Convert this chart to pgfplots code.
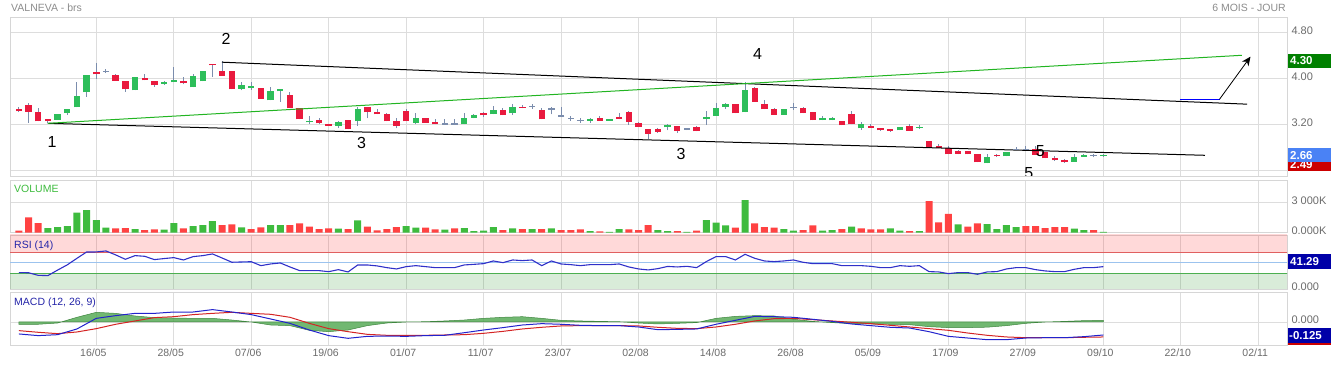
\documentclass[border=0pt]{standalone}
\usepackage{pgfplots}
\pgfplotsset{compat=1.18}
\usepackage{pgfplotstable}
\usepackage{fontspec}
\setmainfont{Liberation Sans}
\usetikzlibrary{arrows.meta}

\definecolor{cgreen}{HTML}{2DBE5A}
\definecolor{cred}{HTML}{E91A3E}
\definecolor{wick}{HTML}{7B8DAD}
\definecolor{gridc}{HTML}{DDDDDD}
\definecolor{framec}{HTML}{D6D6D6}
\definecolor{labc}{HTML}{6B6B6B}
\definecolor{titlec}{HTML}{8C8C8C}
\definecolor{vgreen}{HTML}{3EBB3E}
\definecolor{vred}{HTML}{FF4242}
\definecolor{rsiblue}{HTML}{3030C8}
\definecolor{rsired}{HTML}{E06060}
\definecolor{rsimid}{HTML}{9CC3EE}
\definecolor{rsigreen}{HTML}{4CAF50}
\definecolor{navy}{HTML}{0000A8}
\definecolor{macdblue}{HTML}{2222CC}
\definecolor{macdred}{HTML}{D42424}
\definecolor{histg}{HTML}{4EA64E}
\definecolor{trendg}{HTML}{22B422}
\definecolor{boxgreen}{HTML}{008000}
\definecolor{boxblue}{HTML}{4A82F5}
\definecolor{boxred}{HTML}{CC0000}
\definecolor{lblblue}{HTML}{2424A8}

\pgfplotstableread{
i o h l c
-4 3.281 3.374 3.281 3.374
-3 3.403 3.467 3.362 3.467
-2 3.496 3.942 3.496 3.687
-1 3.757 4.058 3.675 4.058
4 3.791 4.023 3.791 4.023
7 3.907 3.954 3.884 3.936
8 3.930 4.197 3.930 3.977
10 3.843 4.075 3.843 4.041
11 3.948 4.128 3.948 4.128
15 3.820 3.930 3.790 3.878
16 3.838 3.930 3.797 3.867
18 3.617 3.855 3.617 3.780
19 3.774 3.820 3.588 3.820
22 3.235 3.345 3.206 3.264
25 3.177 3.258 3.142 3.235
27 3.252 3.507 3.177 3.467
33 3.229 3.390 3.200 3.310
38 3.200 3.390 3.200 3.304
39 3.310 3.386 3.304 3.362
41 3.374 3.525 3.374 3.443
43 3.391 3.559 3.362 3.496
51 3.258 3.304 3.229 3.293
53 3.264 3.293 3.258 3.293
59 3.148 3.212 3.096 3.183
63 3.287 3.432 3.188 3.327
64 3.345 3.565 3.345 3.490
65 3.501 3.577 3.467 3.548
67 3.409 3.930 3.409 3.791
71 3.368 3.461 3.368 3.461
75 3.270 3.345 3.270 3.304
76 3.270 3.333 3.270 3.316
79 3.130 3.235 3.107 3.200
83 3.096 3.154 3.096 3.154
85 3.136 3.188 3.119 3.159
92 2.522 2.678 2.522 2.626
94 2.643 2.713 2.643 2.713
101 2.551 2.678 2.551 2.626
102 2.638 2.690 2.632 2.673
104 2.645 2.680 2.640 2.660
}\greenc

\pgfplotstableread{
i o h l c
-8 3.467 3.496 3.410 3.426
-7 3.536 3.565 3.229 3.420
-6 3.409 3.490 3.250 3.252
-5 3.287 3.300 3.217 3.264
0 4.115 4.271 3.993 4.070
2 4.058 4.075 3.954 3.954
3 3.954 3.954 3.768 3.809
5 4.006 4.075 3.965 3.965
6 3.948 3.948 3.855 3.878
9 3.959 4.017 3.896 3.913
12 4.249 4.249 4.029 4.226
13 4.133 4.300 4.046 4.046
14 4.128 4.128 3.809 3.809
17 3.826 3.826 3.646 3.646
20 3.710 3.768 3.478 3.478
21 3.478 3.490 3.287 3.287
23 3.275 3.310 3.200 3.217
24 3.206 3.206 3.171 3.177
26 3.270 3.270 3.113 3.113
28 3.496 3.496 3.304 3.409
29 3.409 3.461 3.374 3.374
30 3.374 3.390 3.252 3.252
31 3.252 3.316 3.130 3.177
32 3.426 3.461 3.252 3.252
34 3.310 3.310 3.229 3.229
35 3.235 3.293 3.200 3.200
40 3.391 3.410 3.320 3.357
42 3.449 3.490 3.357 3.357
44 3.507 3.536 3.478 3.484
46 3.449 3.490 3.287 3.287
52 3.310 3.345 3.258 3.264
54 3.327 3.403 3.287 3.300
55 3.409 3.432 3.188 3.246
56 3.223 3.240 3.159 3.159
57 3.113 3.113 2.944 3.038
58 3.119 3.136 3.055 3.072
60 3.165 3.177 3.055 3.090
62 3.154 3.177 3.078 3.078
66 3.548 3.548 3.391 3.391
68 3.826 3.843 3.594 3.594
69 3.548 3.623 3.461 3.461
70 3.461 3.478 3.368 3.368
73 3.478 3.496 3.391 3.391
74 3.409 3.409 3.270 3.270
77 3.264 3.264 3.183 3.183
78 3.374 3.432 3.200 3.200
80 3.177 3.206 3.136 3.136
81 3.136 3.136 3.084 3.096
82 3.113 3.113 3.072 3.090
84 3.171 3.200 3.090 3.090
86 2.910 2.910 2.783 2.812
87 2.829 2.858 2.783 2.783
88 2.783 2.823 2.678 2.678
89 2.736 2.754 2.678 2.690
90 2.736 2.736 2.678 2.678
91 2.690 2.690 2.539 2.539
93 2.673 2.684 2.632 2.643
97 2.777 2.820 2.667 2.667
98 2.713 2.713 2.609 2.609
99 2.620 2.643 2.562 2.574
100 2.574 2.591 2.528 2.539
}\redc

\pgfplotstableread{
i o h l
1 4.120 4.170 4.090
36 3.206 3.293 3.200
37 3.206 3.293 3.200
45 3.507 3.548 3.467
47 3.467 3.507 3.374
48 3.345 3.507 3.333
49 3.304 3.345 3.258
50 3.264 3.304 3.229
61 3.119 3.140 3.100
72 3.490 3.565 3.449
95 2.759 2.800 2.754
96 2.759 2.829 2.754
103 2.661 2.690 2.626
}\dojic

\pgfplotstableread{
i v
-5 470
-4 570
-3 670
-2 2010
-1 2280
0 1270
1 500
4 370
7 300
8 970
10 670
11 770
12 1170
15 535
18 770
19 770
25 400
27 1240
32 670
33 500
36 300
38 470
39 170
40 200
41 570
43 435
45 370
47 435
51 170
53 70
54 370
58 270
59 170
61 70
63 1270
64 1005
65 735
67 3280
71 370
72 200
75 200
76 270
78 600
82 435
83 200
85 170
89 840
92 870
93 370
94 770
95 570
101 400
102 270
104 70
}\volg

\pgfplotstableread{
i v
-8 200
-7 1540
-6 970
2 435
3 470
5 270
6 335
9 435
13 770
14 840
16 370
17 535
20 770
21 940
22 600
23 370
24 435
26 370
28 600
29 235
30 370
31 570
34 500
35 335
37 435
42 270
44 370
46 370
48 270
49 270
50 335
52 135
55 335
56 270
57 770
60 170
62 200
66 500
68 940
69 570
70 500
73 270
74 735
77 370
79 435
80 335
81 335
84 170
86 3180
87 1040
88 1880
90 600
91 940
96 670
97 670
98 470
99 570
100 570
103 270
}\volr

\pgfplotstableread{
i r
-8 31.2
-7 31
-6 26
-5 25.5
-4 36
-3 46
-2 58.5
-1 70.5
0 70.6
1 72.5
2 65
3 56.6
4 63.6
5 62.3
6 56
7 58
8 59.8
9 55.3
10 61.7
11 63.6
12 66.8
13 59
14 51
15 51.5
16 52
17 44.5
18 47.7
19 49.6
20 42
21 35
22 35
23 35
24 33
25 36.9
26 32.5
27 45.8
28 45.8
29 44
30 40.7
31 38.2
32 42.6
33 44.5
34 42.6
35 40.7
36 40.7
37 40.7
38 45.8
39 47
40 48.3
41 53.4
42 50.2
43 55.3
44 54.1
45 55.3
46 44.5
47 53.4
48 47.7
49 46.4
50 44.5
51 46.4
52 46.4
53 46.4
54 47.7
55 42
56 38.2
57 36.3
58 38.8
59 43
60 42
61 43.2
62 40.7
63 52.2
64 61.7
65 61.7
66 55.3
67 66.1
68 58.5
69 53.4
70 52.2
71 53.4
72 55.3
73 50.9
74 48.3
75 48.3
76 48.3
77 44.5
78 44.5
79 44.5
80 43.2
81 40.7
82 40.7
83 44.5
84 43.2
85 44.5
86 33.1
87 32.5
88 29.3
89 31.2
90 31.2
91 28
92 32.5
93 33.1
94 38.2
95 40.7
96 40.7
97 36.9
98 34.4
99 33.1
100 33.1
101 37.5
102 40.7
103 40.7
104 42.6
}\rsi

\pgfplotstableread{
i m s h
-8 -0.115 -0.083 -0.022
-6 -0.131 -0.099 -0.022
-4 -0.122 -0.112 -0.010
-2 -0.067 -0.096 0.045
0 0.035 -0.064 0.093
2 0.061 -0.022 0.083
4 0.083 0.010 0.058
6 0.083 0.042 0.042
8 0.096 0.051 0.038
10 0.096 0.071 0.035
12 0.119 0.083 0.035
14 0.096 0.093 0.019
16 0.071 0.083 0.000
18 0.029 0.074 -0.029
20 -0.013 0.045 -0.035
22 -0.077 -0.013 -0.080
24 -0.131 -0.064 -0.093
26 -0.157 -0.093 -0.077
28 -0.138 -0.119 -0.035
30 -0.135 -0.128 -0.010
32 -0.138 -0.128 0.000
34 -0.131 -0.128 0.003
36 -0.128 -0.125 0.010
38 -0.103 -0.122 0.019
40 -0.077 -0.109 0.035
42 -0.054 -0.090 0.045
44 -0.029 -0.067 0.051
46 -0.016 -0.051 0.035
48 -0.022 -0.038 0.016
50 -0.032 -0.035 0.010
52 -0.035 -0.035 0.006
54 -0.035 -0.035 0.003
56 -0.048 -0.038 -0.010
58 -0.074 -0.051 -0.019
60 -0.071 -0.061 -0.013
62 -0.067 -0.064 -0.006
64 -0.022 -0.048 0.035
66 0.016 -0.022 0.054
68 0.054 0.010 0.061
70 0.051 0.032 0.058
72 0.045 0.035 0.026
74 0.026 0.022 0.006
76 0.006 0.010 -0.006
78 -0.019 -0.003 -0.016
80 -0.035 -0.016 -0.019
82 -0.051 -0.032 -0.022
84 -0.058 -0.048 -0.026
86 -0.093 -0.064 -0.045
88 -0.138 -0.080 -0.054
90 -0.154 -0.106 -0.054
92 -0.170 -0.128 -0.050
94 -0.170 -0.144 -0.035
96 -0.154 -0.151 -0.013
98 -0.151 -0.151 0.000
100 -0.151 -0.151 0.006
102 -0.141 -0.147 0.013
104 -0.125 -0.144 0.016
}\macd

\pgfplotsset{
  panel/.style={
    scale only axis, width=1277pt, anchor=south west,
    xmin=-8.913, xmax=122.97,
    axis line style={draw=framec, line width=0.8pt},
    xtick={0,8,...,120}, xticklabels={},
    grid=major, major grid style={draw=gridc, line width=0.8pt},
    major tick length=0pt,
    yticklabel pos=right,
    yticklabel style={font=\fontsize{11}{13}\selectfont, text=labc, xshift=1pt, yshift=2pt},
    xticklabel style={font=\fontsize{10.5}{12}\selectfont, text=labc, xshift=-3pt},
  },
  wicks/.style={draw=none, mark=none, forget plot,
    error bars/.cd, y dir=plus, y explicit, error mark=none,
    error bar style={draw=wick, line width=1pt}},
  bodies/.style={draw=none, mark=none, forget plot,
    error bars/.cd, y dir=plus, y explicit, error mark=none,
    error bar style={draw=#1, line width=6.4pt}},
}

\begin{document}
\begin{tikzpicture}
\path[use as bounding box] (0,0) rectangle (1331pt,366pt);

% titles
\node[anchor=west, font=\fontsize{10.5}{12}\selectfont, text=titlec, inner sep=0pt] at (11pt,358pt) {VALNEVA - brs};
\node[anchor=east, font=\fontsize{10.5}{12}\selectfont, text=titlec, inner sep=0pt] at (1286pt,358pt) {6 MOIS - JOUR};

% ---------------- price panel
\begin{axis}[panel, at={(10pt,190pt)}, height=159pt,
  ymin=2.301, ymax=5.066,
  ytick={2.4,3.2,4.0,4.8}, yticklabels={,3.20,4.00,4.80}]
\addplot[wicks] table[x=i, y=l, y error plus expr=\thisrow{h}-\thisrow{l}] \greenc;
\addplot[wicks] table[x=i, y=l, y error plus expr=\thisrow{h}-\thisrow{l}] \redc;
\addplot[wicks] table[x=i, y=l, y error plus expr=\thisrow{h}-\thisrow{l}] \dojic;
\addplot[bodies=cgreen] table[x=i, y=o, y error plus expr=\thisrow{c}-\thisrow{o}] \greenc;
\addplot[bodies=cred] table[x=i, y=c, y error plus expr=\thisrow{o}-\thisrow{c}] \redc;
\addplot[only marks, mark=-, mark size=3.2pt, mark options={draw=wick, line width=1.2pt}, forget plot] table[x=i, y=o] \dojic;
% trend lines
\addplot[black, line width=1pt, forget plot] coordinates {(12.98,4.280) (118.85,3.550)};
\addplot[black, line width=1pt, forget plot] coordinates {(-5,3.217) (114.5,2.661)};
\addplot[trendg, line width=1pt, forget plot] coordinates {(-5,3.217) (118.3,4.400)};
\addplot[blue, line width=1pt, forget plot] coordinates {(111.9,3.635) (116.0,3.635)};
\addplot[black, line width=0.8pt, -{Stealth[length=9pt,width=8pt]}, forget plot] coordinates {(116.0,3.635) (119.2,4.376)};
% annotations
\node[font=\fontsize{16}{16}\selectfont] at (axis cs:-4.57,2.892) {1};
\node[font=\fontsize{16}{16}\selectfont] at (axis cs:13.4,4.683) {2};
\node[font=\fontsize{16}{16}\selectfont] at (axis cs:27.4,2.875) {3};
\node[font=\fontsize{16}{16}\selectfont] at (axis cs:60.4,2.683) {3};
\node[font=\fontsize{16}{16}\selectfont] at (axis cs:68.3,4.423) {4};
\node[font=\fontsize{16}{16}\selectfont] at (axis cs:97.5,2.736) {5};
\node[font=\fontsize{16}{16}\selectfont] at (axis cs:96.3,2.353) {5};
\end{axis}

% ---------------- volume panel
\begin{axis}[panel, at={(10pt,133.3pt)}, height=52.7pt,
  ymin=0, ymax=5300,
  ytick={0,3000}, yticklabels={0.000K,3 000K}]
\addplot[ybar, bar width=7pt, bar shift=0pt, fill=vgreen, draw=none, forget plot] table[x=i, y=v] \volg;
\addplot[ybar, bar width=7pt, bar shift=0pt, fill=vred, draw=none, forget plot] table[x=i, y=v] \volr;
\end{axis}

% ---------------- RSI panel
\begin{axis}[panel, at={(10pt,77pt)}, height=54pt,
  ymin=0, ymax=102.9,
  ytick={0}, yticklabels={0.000}]
\addplot[draw=none, fill=red, fill opacity=0.15, forget plot] coordinates {(-10,70) (125,70) (125,110) (-10,110)} -- cycle;
\addplot[draw=none, fill={rgb,255:red,0;green,128;blue,0}, fill opacity=0.15, forget plot] coordinates {(-10,0) (125,0) (125,30) (-10,30)} -- cycle;
\addplot[rsired, line width=1pt, forget plot] coordinates {(-10,70) (125,70)};
\addplot[rsimid, line width=1pt, forget plot] coordinates {(-10,50) (125,50)};
\addplot[rsigreen, line width=1pt, forget plot] coordinates {(-10,30) (125,30)};
\addplot[rsiblue, line width=1.1pt, forget plot] table[x=i, y=r] \rsi;
\end{axis}

% ---------------- MACD panel
\begin{axis}[panel, at={(10pt,20.3pt)}, height=53pt,
  ymin=-0.2279, ymax=0.2817,
  ytick={0}, yticklabels={0.000},
  xticklabels={16/05,28/05,07/06,19/06,01/07,11/07,23/07,02/08,14/08,26/08,05/09,17/09,27/09,09/10,22/10,02/11}]
\addplot[fill=histg, fill opacity=0.8, draw=histg!80!black, line width=0.5pt, forget plot] table[x=i, y=h] \macd \closedcycle;
\addplot[macdred, line width=1pt, forget plot] table[x=i, y=s] \macd;
\addplot[macdblue, line width=1pt, forget plot] table[x=i, y=m] \macd;
\end{axis}

% panel labels
\node[anchor=west, font=\fontsize{10.5}{12}\selectfont, text=vgreen, inner sep=0pt] at (14pt,177pt) {VOLUME};
\node[anchor=west, font=\fontsize{10.5}{12}\selectfont, text=lblblue, inner sep=0pt] at (14pt,120.5pt) {RSI (14)};
\node[anchor=west, font=\fontsize{10.5}{12}\selectfont, text=lblblue, inner sep=0pt] at (14pt,63.5pt) {MACD (12, 26, 9)};

% right value boxes
\fill[boxgreen] (1287.5pt,298pt) rectangle (1331pt,312pt);
\node[anchor=west, text=white, font=\bfseries\fontsize{11.5}{12}\selectfont, inner sep=0pt] at (1290pt,305pt) {4.30};
\fill[boxred] (1287.5pt,194.5pt) rectangle (1331pt,208.5pt);
\node[anchor=west, text=white, font=\bfseries\fontsize{11.5}{12}\selectfont, inner sep=0pt] at (1290pt,201.5pt) {2.49};
\fill[boxblue] (1287.5pt,203.7pt) rectangle (1331pt,217.5pt);
\node[anchor=west, text=white, font=\bfseries\fontsize{11.5}{12}\selectfont, inner sep=0pt] at (1290pt,210.6pt) {2.66};
\fill[navy] (1287.5pt,96.5pt) rectangle (1331pt,112.3pt);
\node[anchor=west, text=white, font=\bfseries\fontsize{11.5}{12}\selectfont, inner sep=0pt] at (1290pt,104.4pt) {41.29};
\fill[boxred] (1287.5pt,20.5pt) rectangle (1331pt,25pt);
\fill[navy] (1287.5pt,23pt) rectangle (1331pt,38.3pt);
\node[anchor=west, text=white, font=\bfseries\fontsize{11.5}{12}\selectfont, inner sep=0pt] at (1289pt,30.6pt) {-0.125};
\end{tikzpicture}
\end{document}
